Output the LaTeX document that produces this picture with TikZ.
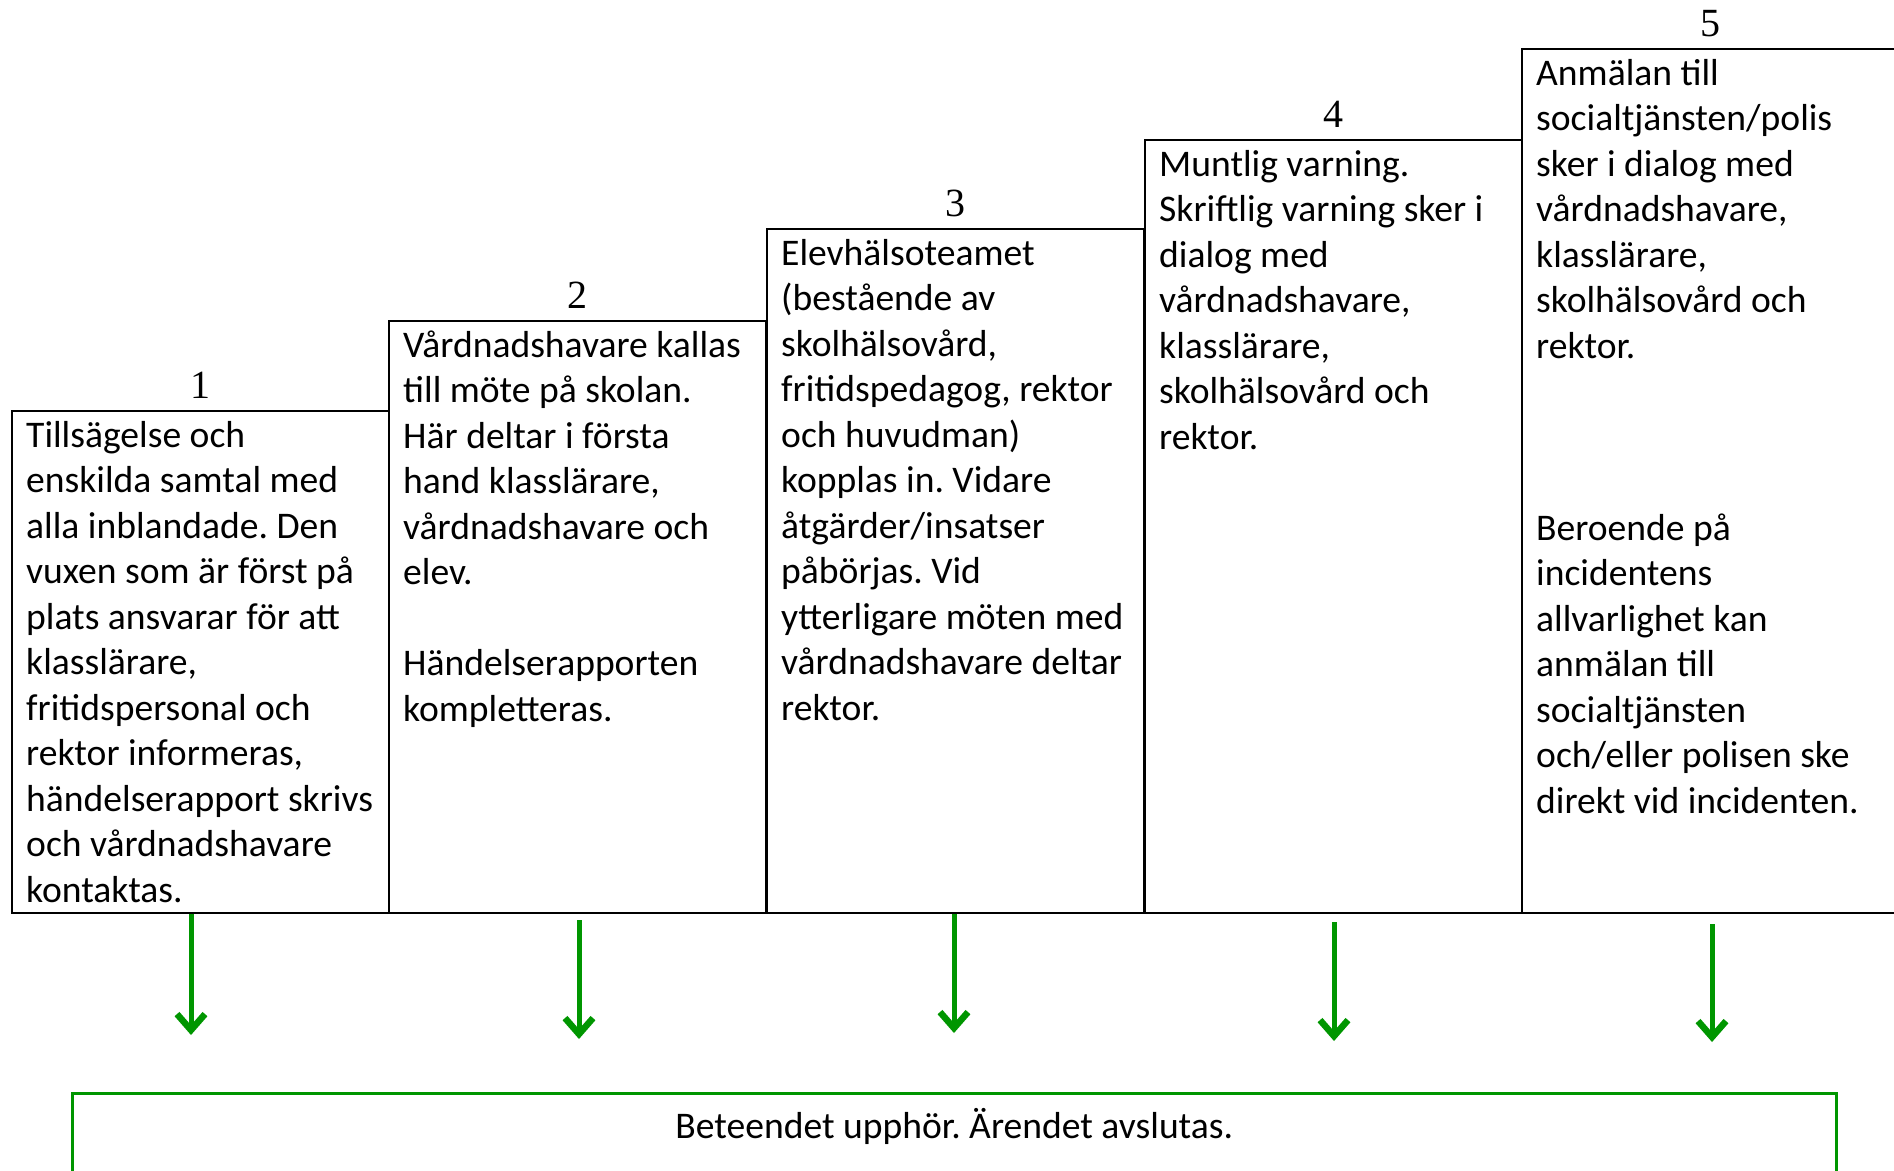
\documentclass[tikz,border=0pt]{standalone}
\usepackage{fontspec}
\setmainfont{Carlito}
\newfontfamily\numfont{Liberation Serif}
\usetikzlibrary{arrows.meta,calc}
\definecolor{arrgreen}{RGB}{0,150,0}
\tikzset{
  stepbox/.style={draw=black, line width=2pt, minimum width=377pt, anchor=north west, inner sep=0pt},
  boxtext/.style={anchor=north west, inner sep=0pt, align=left, font=\fontsize{37.6}{45.5}\selectfont},
  numlabel/.style={anchor=base, inner sep=0pt, font=\numfont\fontsize{40}{44}\selectfont},
  greenarrow/.style={draw=arrgreen, line width=5pt, -{Straight Barb[length=16pt,width=28pt,line width=6.5pt]}},
  endbox/.style={draw=arrgreen, line width=2.5pt, anchor=north west, inner sep=0pt},
  endtext/.style={inner sep=0pt, font=\fontsize{37.6}{45.5}\selectfont}
}
\newcommand{\fstrut}{\rule{0pt}{30pt}}
\frenchspacing
\begin{document}
\begin{tikzpicture}[x=1pt,y=-1pt]
\clip (0,0) rectangle (1894,1170);
\fill[white] (0,0) rectangle (1894,1170);
% boxes
\node[stepbox, minimum height=502pt] (b1) at (11,410) {};
\node[stepbox, minimum height=592pt] (b2) at (388,320) {};
\node[stepbox, minimum height=684pt] (b3) at (766,228) {};
\node[stepbox, minimum height=773pt] (b4) at (1144,139) {};
\node[stepbox, minimum height=864pt] (b5) at (1521,48) {};
% numbers
\node[numlabel] (n1) at ($(b1.north)+(0,-12)$) {1};
\node[numlabel] (n2) at ($(b2.north)+(0,-12)$) {2};
\node[numlabel] (n3) at ($(b3.north)+(0,-12)$) {3};
\node[numlabel] (n4) at ($(b4.north)+(0,-12)$) {4};
\node[numlabel] (n5) at ($(b5.north)+(0,-12)$) {5};
% texts
\node[boxtext] (t1) at ($(b1.north west)+(15,7)$) {\fstrut Tillsägelse och\\enskilda samtal med\\alla inblandade. Den\\vuxen som är först på\\plats ansvarar för att\\klasslärare,\\fritidspersonal och\\rektor informeras,\\händelserapport skrivs\\och vårdnadshavare\\kontaktas.};
\node[boxtext] (t2) at ($(b2.north west)+(15,7)$) {\fstrut Vårdnadshavare kallas\\till möte på skolan.\\Här deltar i första\\hand klasslärare,\\vårdnadshavare och\\elev.\\[45.5pt]Händelserapporten\\kompletteras.};
\node[boxtext] (t3) at ($(b3.north west)+(15,7)$) {\fstrut Elevhälsoteamet\\(bestående av\\skolhälsovård,\\fritidspedagog, rektor\\och huvudman)\\kopplas in. Vidare\\åtgärder/insatser\\påbörjas. Vid\\ytterligare möten med\\vårdnadshavare deltar\\rektor.};
\node[boxtext] (t4) at ($(b4.north west)+(15,7)$) {\fstrut Muntlig varning.\\Skriftlig varning sker i\\dialog med\\vårdnadshavare,\\klasslärare,\\skolhälsovård och\\rektor.};
\node[boxtext] (t5) at ($(b5.north west)+(15,7)$) {\fstrut Anmälan till\\socialtjänsten/polis\\sker i dialog med\\vårdnadshavare,\\klasslärare,\\skolhälsovård och\\rektor.\\[136.5pt]Beroende på\\incidentens\\allvarlighet kan\\anmälan till\\socialtjänsten\\och/eller polisen ske\\direkt vid incidenten.};
% final box
\node[endbox, minimum width=1764pt, minimum height=140pt] (gb) at (71,1092) {};
\node[endtext] (gt) at ($(gb.north)+(0,34)$) {Beteendet upphör. Ärendet avslutas.};
% arrows
\coordinate (e1) at (191,1035);
\coordinate (e2) at (579,1039);
\coordinate (e3) at (954,1033);
\coordinate (e4) at (1334,1041);
\coordinate (e5) at (1712,1042);
\draw[greenarrow] (b1.south -| e1) -- (e1);
\draw[greenarrow] ($(b2.south -| e2)+(0,6)$) -- (e2);
\draw[greenarrow] (b3.south -| e3) -- (e3);
\draw[greenarrow] ($(b4.south -| e4)+(0,8)$) -- (e4);
\draw[greenarrow] ($(b5.south -| e5)+(0,10)$) -- (e5);
\end{tikzpicture}
\end{document}
